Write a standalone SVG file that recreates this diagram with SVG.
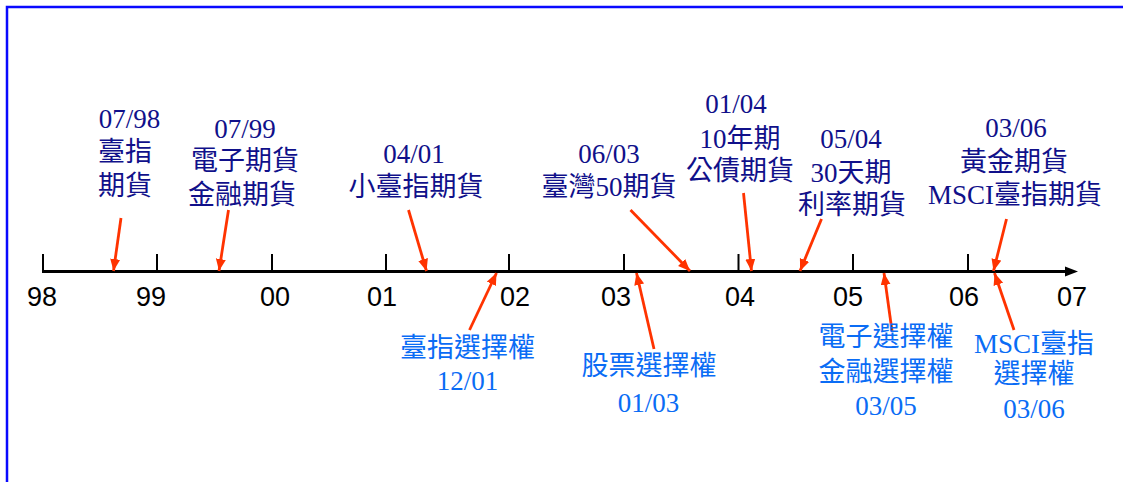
<svg xmlns="http://www.w3.org/2000/svg" width="1123" height="482" viewBox="0 0 1123 482">
<style>
.lbl{font-family:"Liberation Serif","Noto Sans CJK TC",serif;font-size:27px;text-anchor:middle}
.top{fill:#10108a}
.bot{fill:#0a6cf5}
.yr{font-family:"Liberation Sans",Arial,sans-serif;font-size:27px;fill:#000;text-anchor:middle}
.arr{stroke:#ff3300;stroke-width:2.8;fill:none;marker-end:url(#ah)}
.tick{stroke:#000;stroke-width:2}
</style>
<defs>
<marker id="ah" markerUnits="userSpaceOnUse" markerWidth="14" markerHeight="12" refX="12" refY="5" orient="auto">
<path d="M0,0 L12,5 L0,10 Z" fill="#ff3300"/>
</marker>
</defs>
<rect width="1123" height="482" fill="#fff"/>
<path d="M7,482 V7 H1123" fill="none" stroke="#0a0aff" stroke-width="2.5"/>
<g id="axis">
<line x1="42" y1="271.5" x2="1068" y2="271.5" stroke="#000" stroke-width="3.2"/>
<path d="M1065,266.5 L1078,271.5 L1065,276.5 Z" fill="#000"/>
<line class="tick" x1="43" y1="254" x2="43" y2="272"/>
<line class="tick" x1="157" y1="254" x2="157" y2="272"/>
<line class="tick" x1="272" y1="254" x2="272" y2="272"/>
<line class="tick" x1="386" y1="254" x2="386" y2="272"/>
<line class="tick" x1="509" y1="254" x2="509" y2="272"/>
<line class="tick" x1="624" y1="254" x2="624" y2="272"/>
<line class="tick" x1="738.5" y1="254" x2="738.5" y2="272"/>
<line class="tick" x1="853" y1="254" x2="853" y2="272"/>
<line class="tick" x1="968" y1="254" x2="968" y2="272"/>
<text class="yr" x="42" y="306">98</text>
<text class="yr" x="151" y="306">99</text>
<text class="yr" x="275" y="306">00</text>
<text class="yr" x="382" y="306">01</text>
<text class="yr" x="515" y="306">02</text>
<text class="yr" x="616" y="306">03</text>
<text class="yr" x="740" y="306">04</text>
<text class="yr" x="848" y="306">05</text>
<text class="yr" x="964" y="306">06</text>
<text class="yr" x="1072" y="306">07</text>
</g>
<g id="connectors">
<line class="arr" x1="121" y1="218" x2="113.5" y2="271"/>
<line class="arr" x1="228.5" y1="210" x2="219" y2="271"/>
<line class="arr" x1="408.5" y1="210" x2="426.5" y2="271"/>
<line class="arr" x1="630.5" y1="210" x2="690" y2="271"/>
<line class="arr" x1="743.5" y1="193" x2="751.5" y2="271"/>
<line class="arr" x1="821.5" y1="219" x2="800" y2="271"/>
<line class="arr" x1="1006.5" y1="219" x2="993.5" y2="271"/>
<line class="arr" x1="469.5" y1="330" x2="496.5" y2="273"/>
<line class="arr" x1="654" y1="349" x2="636.5" y2="273"/>
<line class="arr" x1="892" y1="331" x2="884" y2="273"/>
<line class="arr" x1="1014" y1="330" x2="994.5" y2="273"/>
</g>
<g id="n-0798" class="lbl top">
<text x="129.5" y="128">07/98</text>
<text x="125" y="161">臺指</text>
<text x="125" y="194.5">期貨</text>
</g>
<g id="n-0799" class="lbl top">
<text x="245" y="137.5">07/99</text>
<text x="245" y="170">電子期貨</text>
<text x="242" y="204">金融期貨</text>
</g>
<g id="n-0401" class="lbl top">
<text x="414" y="163">04/01</text>
<text x="416" y="196">小臺指期貨</text>
</g>
<g id="n-0603" class="lbl top">
<text x="609" y="163">06/03</text>
<text x="609" y="196">臺灣50期貨</text>
</g>
<g id="n-0104" class="lbl top">
<text x="736" y="113">01/04</text>
<text x="740" y="148">10年期</text>
<text x="740" y="180">公債期貨</text>
</g>
<g id="n-0504" class="lbl top">
<text x="851" y="148">05/04</text>
<text x="851" y="182">30天期</text>
<text x="852" y="214">利率期貨</text>
</g>
<g id="n-0306f" class="lbl top">
<text x="1016" y="137">03/06</text>
<text x="1014" y="171">黃金期貨</text>
<text x="1015" y="204">MSCI臺指期貨</text>
</g>
<g id="n-1201" class="lbl bot">
<text x="467.5" y="357">臺指選擇權</text>
<text x="467.5" y="390">12/01</text>
</g>
<g id="n-0103" class="lbl bot">
<text x="649" y="375">股票選擇權</text>
<text x="648.5" y="412">01/03</text>
</g>
<g id="n-0305" class="lbl bot">
<text x="886" y="346">電子選擇權</text>
<text x="886" y="381">金融選擇權</text>
<text x="886" y="415">03/05</text>
</g>
<g id="n-0306o" class="lbl bot">
<text x="1034" y="353">MSCI臺指</text>
<text x="1034" y="383">選擇權</text>
<text x="1034" y="418">03/06</text>
</g>
</svg>
